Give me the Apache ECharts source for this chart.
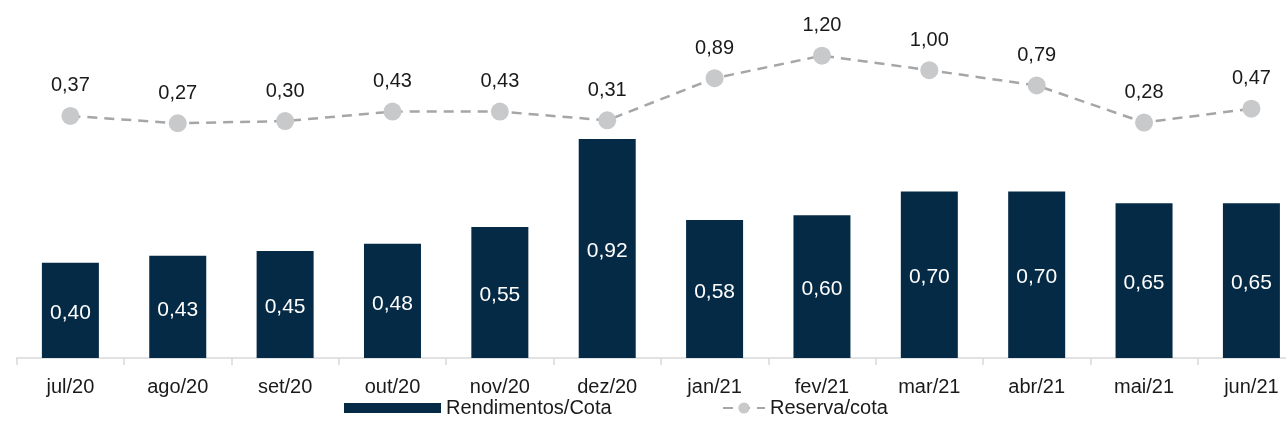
<!DOCTYPE html>
<html>
<head>
<meta charset="utf-8">
<script src="https://cdn.jsdelivr.net/npm/echarts@6/dist/echarts.min.js"></script>
<style>
  html, body { margin: 0; padding: 0; background: #ffffff; }
  #chart { width: 1286px; height: 442px; }
</style>
</head>
<body>
<div id="chart"></div>
<script>
// Monthly figures per share (R$)
const months = ['jul/20', 'ago/20', 'set/20', 'out/20', 'nov/20', 'dez/20',
                'jan/21', 'fev/21', 'mar/21', 'abr/21', 'mai/21', 'jun/21'];
const rendimentosCota = [0.40, 0.43, 0.45, 0.48, 0.55, 0.92, 0.58, 0.60, 0.70, 0.70, 0.65, 0.65];
const reservaCota = [0.37, 0.27, 0.30, 0.43, 0.43, 0.31, 0.89, 1.20, 1.00, 0.79, 0.28, 0.47];

const FONT = '"Liberation Sans", Arial, Helvetica, sans-serif';
const fmt = v => Number(v).toFixed(2).replace('.', ',');

const chart = echarts.init(document.getElementById('chart'), null, { renderer: 'canvas' });

chart.setOption({
  backgroundColor: '#ffffff',
  animation: false,
  textStyle: { fontFamily: FONT },
  // the last category runs slightly past the right edge of the canvas
  grid: {
    left: 16.7, top: 24.8, width: 1288.4, height: 333.2,
    containLabel: false, outerBoundsMode: 'none'
  },
  legend: [
    {
      data: [{ name: 'Rendimentos/Cota', icon: 'rect' }],
      left: 339, top: 393,
      itemWidth: 97, itemHeight: 10,
      textStyle: { fontFamily: FONT, fontSize: 20, color: '#1a1a1a' }
    },
    {
      data: ['Reserva/cota'],
      left: 717, top: 393,
      itemWidth: 42, itemHeight: 14,
      textStyle: { fontFamily: FONT, fontSize: 20, color: '#1a1a1a' }
    }
  ],
  xAxis: {
    type: 'category',
    data: months,
    boundaryGap: true,
    axisLine: { show: true, lineStyle: { color: '#d9d9d9', width: 1.5 } },
    axisTick: { show: true, length: 7, lineStyle: { color: '#d9d9d9', width: 1.5 } },
    axisLabel: { fontFamily: FONT, fontSize: 20, color: '#1a1a1a', margin: 19 }
  },
  yAxis: [
    { type: 'value', min: 0, max: 1.4, show: false, splitLine: { show: false } },
    { type: 'value', min: -2.959, max: 1.624, show: false, splitLine: { show: false } }
  ],
  series: [
    {
      name: 'Rendimentos/Cota',
      type: 'bar',
      yAxisIndex: 0,
      data: rendimentosCota,
      barWidth: 57,
      itemStyle: { color: '#052a46' },
      label: {
        show: true,
        position: 'inside',
        offset: [0, 3],
        formatter: p => fmt(p.value),
        fontFamily: FONT,
        fontSize: 21,
        color: '#ffffff'
      }
    },
    {
      name: 'Reserva/cota',
      type: 'line',
      yAxisIndex: 1,
      data: reservaCota,
      symbol: 'circle',
      symbolSize: 18,
      itemStyle: { color: '#c8c9cb' },
      lineStyle: { color: '#a6a6a6', width: 2.5, type: [10, 7] },
      label: {
        show: true,
        position: 'top',
        distance: 11,
        formatter: p => fmt(p.value),
        fontFamily: FONT,
        fontSize: 20,
        color: '#1a1a1a'
      },
      z: 3
    }
  ]
});
</script>
</body>
</html>
